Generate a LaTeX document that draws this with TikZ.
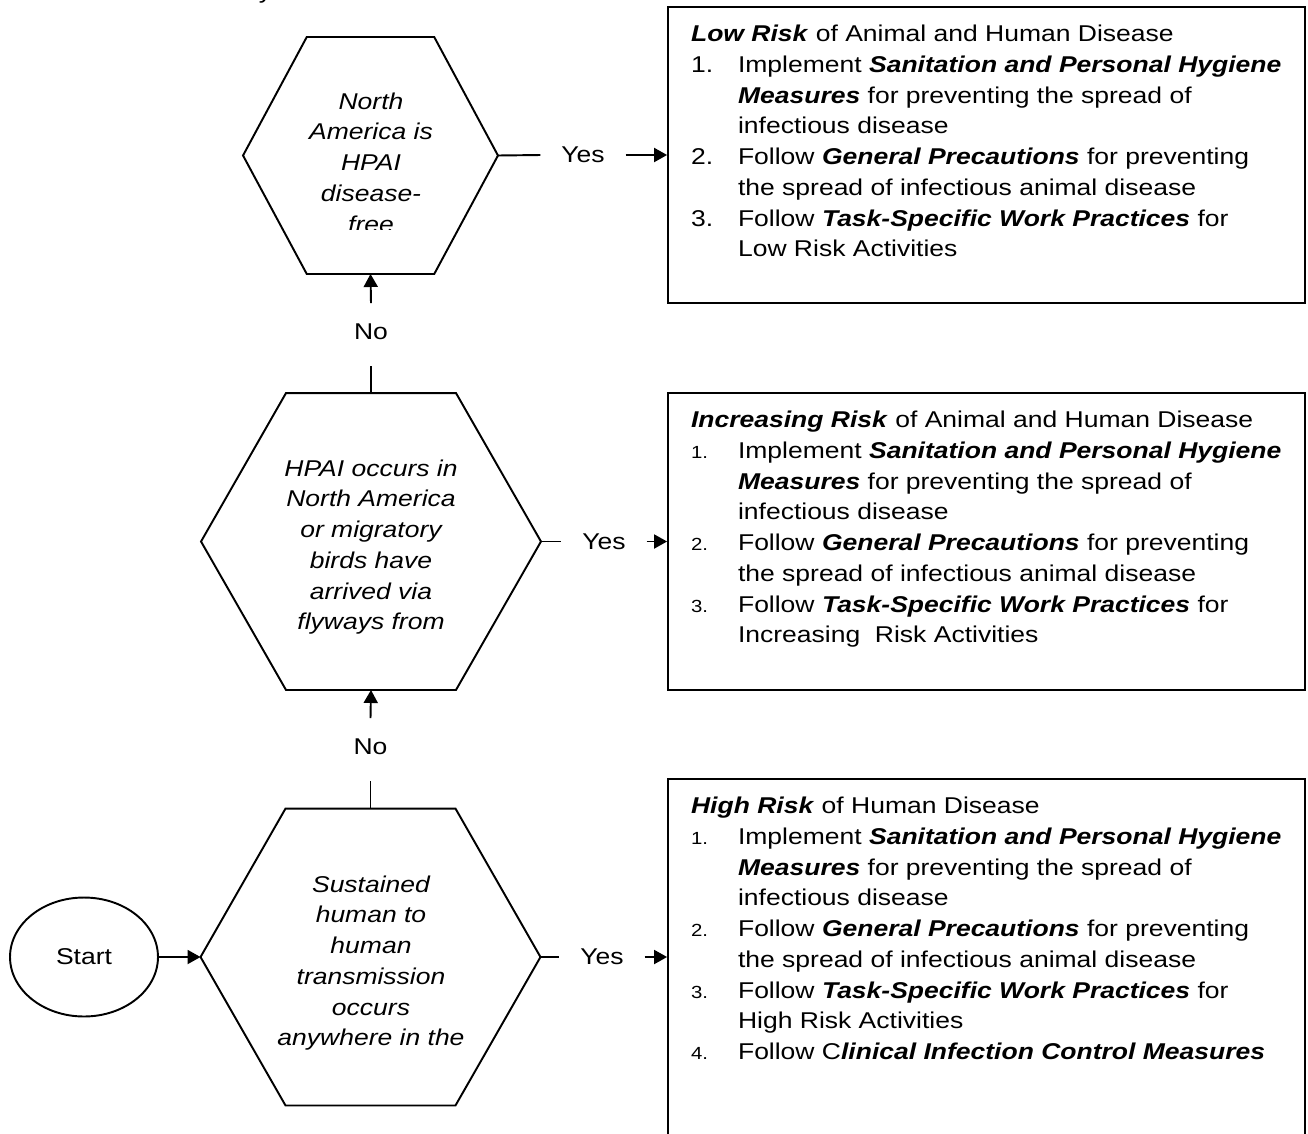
\documentclass[tikz,border=0pt]{standalone}
\usepackage{fontspec}
\setmainfont{Liberation Sans}[FakeStretch=1.16]
\usetikzlibrary{arrows.meta,positioning,calc,shapes.geometric}
\newcommand{\bfit}[1]{\textbf{\textit{#1}}}
\newcommand{\itemno}[1]{\makebox[0.94cm][l]{#1}}
\newcommand{\itemsm}[1]{\makebox[0.94cm][l]{\fontsize{10}{12}\selectfont #1}}
\newcommand{\itemgap}{\hspace*{0.94cm}}
\tikzset{
  every picture/.style={font=\fontsize{13}{17.5}\selectfont, line width=1.1pt},
  decision/.style={inner sep=0pt, outer sep=0pt},
  question/.style={font=\fontsize{13}{17.5}\selectfont\itshape, align=center, inner sep=0pt, anchor=north},
  riskbox/.style={draw, minimum width=12.74cm, minimum height=#1, inner sep=0pt},
  risktext/.style={align=left, inner sep=0pt, anchor=north west},
  startnode/.style={draw, ellipse, minimum width=2.96cm, minimum height=2.38cm},
  arrow/.style={-{Triangle[length=0.26cm, width=0.28cm]}},
  answer/.style={inner xsep=0.4cm, inner ysep=0pt},
  nolabel/.style={inner sep=0pt, text height=0.7cm, text depth=0.52cm, anchor=base},
}
\begin{document}
\begin{tikzpicture}[x=0.02cm, y=-0.02cm]
  \useasboundingbox (0,0) rectangle (1308,1133);
  \clip (0,0) rectangle (1308,1133);

  \node[anchor=base west, inner sep=0pt] (cut) at (258,-1.6) {y};

  \node[decision, minimum width=5.1cm, minimum height=4.74cm] (d1) at (370.5,155.5) {};
  \node[decision, minimum width=6.8cm, minimum height=5.94cm] (d2) at (371,541.5) {};
  \node[decision, minimum width=6.8cm, minimum height=5.94cm] (d3) at (370.5,957) {};
  \foreach \d in {d1,d2,d3}
    \draw (\d.west) -- ($(\d.north west)!.25!(\d.north east)$) -- ($(\d.north west)!.75!(\d.north east)$)
      -- (\d.east) -- ($(\d.south west)!.75!(\d.south east)$) -- ($(\d.south west)!.25!(\d.south east)$) -- cycle;

  \begin{scope}
    \clip (d1.north west) rectangle (498,229);
    \node[question] (q1) at (371,91.5) {North\\America is\\HPAI\\disease-\\free};
  \end{scope}
  \node[question] (q2) at (371,458.5) {HPAI occurs in\\North America\\or migratory\\birds have\\arrived via\\flyways from};
  \node[question] (q3) at (371,874.5) {Sustained\\human to\\human\\transmission\\occurs\\anywhere in the};

  \node[startnode] (start) at (84,957) {Start};

  \node[riskbox=5.92cm] (r1) at (986.5,155) {};
  \node[riskbox=5.94cm] (r2) at (986.5,541.5) {};
  \node[riskbox=7.12cm] (r3) at (986.5,957) {};

  \node[risktext] (l1) at ($(r1.north west)+(23,18)$) {\bfit{Low Risk} of Animal and Human Disease\\
    \itemno{1.}Implement \bfit{Sanitation and Personal Hygiene}\\
    \itemgap\bfit{Measures} for preventing the spread of\\
    \itemgap infectious disease\\
    \itemno{2.}Follow \bfit{General Precautions} for preventing\\
    \itemgap the spread of infectious animal disease\\
    \itemno{3.}Follow \bfit{Task-Specific Work Practices} for\\
    \itemgap Low Risk Activities};
  \node[risktext] (l2) at ($(r2.north west)+(23,18)$) {\bfit{Increasing Risk} of Animal and Human Disease\\
    \itemsm{1.}Implement \bfit{Sanitation and Personal Hygiene}\\
    \itemgap\bfit{Measures} for preventing the spread of\\
    \itemgap infectious disease\\
    \itemsm{2.}Follow \bfit{General Precautions} for preventing\\
    \itemgap the spread of infectious animal disease\\
    \itemsm{3.}Follow \bfit{Task-Specific Work Practices} for\\
    \itemgap Increasing\ \ Risk Activities};
  \node[risktext] (l3) at ($(r3.north west)+(23,18)$) {\bfit{High Risk} of Human Disease\\
    \itemsm{1.}Implement \bfit{Sanitation and Personal Hygiene}\\
    \itemgap\bfit{Measures} for preventing the spread of\\
    \itemgap infectious disease\\
    \itemsm{2.}Follow \bfit{General Precautions} for preventing\\
    \itemgap the spread of infectious animal disease\\
    \itemsm{3.}Follow \bfit{Task-Specific Work Practices} for\\
    \itemgap High Risk Activities\\
    \itemsm{4.}Follow C\bfit{linical Infection Control Measures}};

  \node[answer] (yes1) at (583,155) {Yes};
  \node[answer] (yes2) at (604,541.5) {Yes};
  \node[answer] (yes3) at (602,957) {Yes};
  \foreach \i in {1,2,3} {
    \draw (d\i.east) -- (yes\i.west);
    \draw[arrow] (yes\i.east) -- (r\i.west);
  }

  \node[nolabel] (no1) at (371,339) {No};
  \node[nolabel] (no2) at (370.5,754) {No};
  \draw[arrow] (no1.north) -- (d1.south);
  \draw (d2.north) -- (no1.south);
  \draw[arrow] (no2.north) -- (d2.south);
  \draw (d3.north) -- (no2.south);
  \draw[arrow] (start.east) -- (d3.west);
\end{tikzpicture}
\end{document}
